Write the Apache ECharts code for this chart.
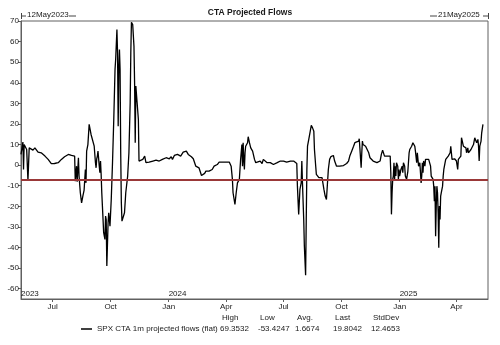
<!DOCTYPE html>
<html><head><meta charset="utf-8">
<script src="https://cdn.jsdelivr.net/npm/echarts@6/dist/echarts.min.js"></script>
<style>html,body{margin:0;padding:0;background:#fff}#c{width:500px;height:345px}</style>
</head><body><div id="c"></div>
<script>
// ---- data ----
const chartTitle = 'CTA Projected Flows';
const seriesName = 'SPX CTA 1m projected flows (flat)';
const startDate = '2023-05-12';
const endDate = '2025-05-21';
const startLabel = '12May2023';
const endLabel = '21May2025';
// observation dates, as days since 12 May 2023
const dayOffsets = [0,3,4,5,7,9,10,11,13,16,19,22,24,27,30,32,35,38,40,43,45,48,51,53,56,59,61,64,67,69,72,75,77,80,82,85,86,88,89,91,92,94,96,98,100,102,103,104,106,108,109,111,114,116,118,119,120,121,122,123,124,125,126,127,128,129,131,133,134,135,136,138,139,141,143,145,147,149,150,152,153,154,155,156,157,158,159,160,162,164,166,169,171,173,174,175,177,179,180,181,182,184,186,187,190,193,195,196,198,201,203,209,214,219,224,230,232,235,238,240,243,
245,248,250,253,256,257,259,262,265,267,270,273,275,277,279,282,285,286,289,291,293,295,298,301,303,306,308,311,314,316,319,322,324,327,330,332,333,335,336,339,341,343,344,346,348,350,351,352,353,354,355,356,359,360,362,364,367,369,
370,372,375,379,382,384,387,390,392,395,398,400,403,406,408,411,414,416,419,421,424,427,429,432,435,437,438,440,442,444,445,446,448,449,451,452,453,454,456,457,459,460,462,464,465,467,468,470,472,473,475,477,478,480,482,484,485,487,489,491,493,
495,497,500,503,505,508,511,513,516,519,521,524,527,529,532,535,536,537,539,540,541,542,544,546,548,549,551,553,556,558,561,564,566,569,571,573,575,576,578,579,581,583,585,586,587,588,589,590,591,592,593,594,595,597,598,599,600,602,604,605,606,608,609,611,613,
615,616,619,621,622,624,625,626,627,628,629,630,632,633,634,635,636,637,638,640,641,642,644,646,648,649,650,651,653,654,655,656,657,658,659,660,661,662,663,664,665,666,668,669,670,672,673,675,677,678,680,681,682,683,685,687,690,691,692,693,695,697,698,700,701,703,705,706,708,709,711,713,714,716,717,719,720,722,724,725,726,727,729,730,732];
const flowValues = [5.2,11.2,-2.1,10.0,9.2,7.6,6.8,-7.4,8.4,7.9,7.3,8.4,7.6,6.3,6.8,6.0,5.5,4.4,3.6,2.8,2.0,0.7,0.4,0.8,0.8,1.2,2.0,2.8,3.1,4.1,4.7,5.2,4.7,4.7,4.4,4.4,-7.8,-0.5,-8.1,3.6,-5.3,-13.4,-18.3,-15.0,-12.1,-2.1,-8.6,6.8,10.0,19.8,18.9,14.9,14.9,9.2,1.2,-1.3,3.0,4.4,6.8,6.0,-0.5,-3.7,2.0,-4.5,-13.4,-19.9,-32.8,-36.1,-24.7,-26.4,-49.0,-28.0,-23.1,-29.6,-16.7,1.2,22.2,46.5,51.3,65.9,54.5,18.9,46.5,56.2,46.5,6.0,-18.3,-27.2,-26.4,-23.1,-13.4,-5.3,6.0,30.3,54.5,69.35,68.3,57.8,40.0,10.9,38.4,30.3,22.2,2.0,2.0,2.8,2.0,4.4,1.2,0.4,1.5,2.0,2.4,2.0,2.8,3.6,4.4,3.1,4.1,2.8,4.7,
4.4,5.2,6.0,4.4,5.2,6.3,6.8,6.8,5.2,4.4,4.1,3.1,2.8,-0.5,-0.5,-1.3,-2.1,-5.0,-5.0,-4.0,-2.9,-3.4,-2.9,-3.4,-2.1,-0.5,-0.5,0.3,1.5,2.0,1.5,2.0,1.5,1.2,1.5,1.2,-0.5,-6.9,-13.4,-19.1,-13.4,-8.6,-7.7,-6.9,2.8,10.0,-0.5,10.9,2.8,-2.1,6.0,9.2,10.9,13.8,10.9,8.4,6.8,6.0,
2.8,1.2,1.2,2.0,0.8,2.8,2.0,1.2,2.0,1.2,0.8,0.3,0.8,1.2,1.5,2.0,2.4,2.0,2.0,1.5,2.0,2.0,1.5,2.0,1.2,0.8,-10.2,-23.9,-11.8,-8.6,2.0,-8.6,-26.4,-39.3,-53.42,-26.4,-2.1,9.2,12.5,13.3,12.5,19.3,18.1,16.5,7.6,-0.5,-4.5,-5.3,-6.1,-5.3,-6.6,-6.1,-6.9,-11.8,-15.0,-16.7,-11.8,-2.1,2.8,4.1,4.4,
4.7,2.0,-0.5,-1.3,-0.5,-0.5,-0.2,-0.5,0.8,2.0,4.4,6.8,9.2,10.9,10.0,11.7,12.8,12.5,-1.3,6.0,11.7,10.0,9.2,9.2,9.2,8.4,6.0,3.6,2.8,2.0,2.0,1.2,0.8,2.0,5.2,7.3,6.8,4.4,4.7,5.2,4.4,5.2,4.4,-3.7,-23.9,-13.4,-6.9,-5.3,1.2,-6.9,-0.5,-5.3,1.2,-0.5,-6.9,-2.1,-5.3,-2.1,-0.5,-3.7,1.2,-0.5,-5.3,-6.9,-3.0,
6.0,7.6,9.2,10.9,11.7,9.2,6.8,6.0,1.2,6.0,2.8,-0.5,1.2,-3.7,-8.6,-5.3,1.2,-3.7,2.0,-0.5,2.8,2.0,2.8,2.8,2.0,-0.5,-5.3,-6.1,-6.9,-10.2,-17.5,-10.2,-34.5,-19.9,-10.2,-13.4,-23.1,-40.1,-19.9,-26.4,-15.0,-13.4,-10.2,-5.3,-2.1,1.2,2.8,3.6,4.4,4.1,6.0,9.2,6.0,2.8,2.8,3.1,2.0,2.0,-2.1,2.8,3.6,4.4,13.3,12.5,9.2,9.6,8.4,6.0,8.4,6.0,6.0,7.6,6.8,7.6,10.0,13.3,12.5,10.9,12.5,9.2,2.0,9.2,11.7,15.7,19.8042];
const thresholdValue = -7;
const yTickValues = [-60,-50,-40,-30,-20,-10,0,10,20,30,40,50,60,70];
const monthTickDates = ['2023-07-01','2023-10-01','2024-01-01','2024-04-01','2024-07-01','2024-10-01','2025-01-01','2025-04-01'];
const monthTickLabels = ['Jul','Oct','Jan','Apr','Jul','Oct','Jan','Apr'];
const yearTickDates = ['2023-05-12','2024-01-01','2025-01-01'];
const yearTickLabels = ['2023','2024','2025'];
const statNames = ['High','Low','Avg.','Last','StdDev'];
const statValues = ['69.3532','-53.4247','1.6674','19.8042','12.4653'];

// ---- build ----
const DAY = 86400000;
const t0 = Date.parse(startDate);
const t1 = Date.parse(endDate);
const seriesData = dayOffsets.map((d, i) => [t0 + d * DAY, flowValues[i]]);
const monthTicks = monthTickDates.map(s => Date.parse(s));
const yearTicks = yearTickDates.map(s => Date.parse(s));
const FONT = '"Liberation Sans", Arial, sans-serif';
const TXT = '#1a1a1a';
const AX = '#606060';

const statX = [222, 260, 297, 335, 373];
const graphics = [];
statNames.forEach((n, i) => {
  graphics.push({type:'text', left: statX[i], top: 314, style:{text:n, font:'8px ' + FONT, fill:TXT}});
  graphics.push({type:'text', left: statX[i] - 2, top: 325, style:{text:statValues[i], font:'8px ' + FONT, fill:TXT}});
});
// corner date markers
graphics.push({type:'line', shape:{x1:21.5,y1:13,x2:21.5,y2:19}, style:{stroke:'#444',lineWidth:1}});
graphics.push({type:'line', shape:{x1:21.5,y1:16,x2:26,y2:16}, style:{stroke:'#444',lineWidth:1}});
graphics.push({type:'text', left:27, top:11, style:{text:startLabel, font:'8px ' + FONT, fill:TXT}});
graphics.push({type:'line', shape:{x1:69,y1:16,x2:76,y2:16}, style:{stroke:'#444',lineWidth:1}});
graphics.push({type:'line', shape:{x1:430,y1:16,x2:437,y2:16}, style:{stroke:'#444',lineWidth:1}});
graphics.push({type:'text', left:438, top:11, style:{text:endLabel, font:'8px ' + FONT, fill:TXT}});
graphics.push({type:'line', shape:{x1:483,y1:16,x2:488,y2:16}, style:{stroke:'#444',lineWidth:1}});
graphics.push({type:'line', shape:{x1:488.5,y1:13,x2:488.5,y2:19}, style:{stroke:'#444',lineWidth:1}});

const chart = echarts.init(document.getElementById('c'), null, {renderer:'canvas'});
chart.setOption({
  animation: false,
  backgroundColor: '#fff',
  textStyle: {fontFamily: FONT},
  title: {text: chartTitle, left: 'center', top: 3, textStyle: {fontSize: 8.5, fontWeight: 'bold', color: TXT, fontFamily: FONT}},
  legend: {
    data: [seriesName], left: 81, top: 325, padding: 0, icon: 'rect', itemWidth: 11, itemHeight: 1.5,
    textStyle: {fontSize: 8, color: TXT, fontFamily: FONT}
  },
  grid: {left: 21, right: 12, top: 21, bottom: 46, show: true, borderColor: AX, borderWidth: 1, backgroundColor: '#fff'},
  xAxis: [{
    type: 'value', min: t0, max: t1,
    axisLine: {show: true, onZero: false, lineStyle: {color: AX}},
    axisTick: {show: true, length: 3, lineStyle: {color: AX}, customValues: monthTicks},
    axisLabel: {customValues: monthTicks, margin: 4, fontSize: 8, color: TXT, fontFamily: FONT,
      formatter: v => { const i = monthTicks.indexOf(v); return i >= 0 ? monthTickLabels[i] : ''; }},
    splitLine: {show: false}
  }, {
    type: 'value', min: t0, max: t1, position: 'bottom',
    axisLine: {show: false, onZero: false}, axisTick: {show: false}, splitLine: {show: false},
    axisLabel: {inside: true, customValues: yearTicks, margin: 1, align: 'left', fontSize: 8, color: TXT, fontFamily: FONT,
      formatter: v => { const i = yearTicks.indexOf(v); return i >= 0 ? yearTickLabels[i] : ''; }}
  }],
  yAxis: {
    type: 'value', min: -65, max: 70,
    axisLine: {show: true, onZero: false, lineStyle: {color: AX}},
    axisTick: {show: true, length: 3, lineStyle: {color: AX}, customValues: yTickValues},
    axisLabel: {customValues: yTickValues, margin: 2, fontSize: 8, color: TXT, fontFamily: FONT},
    splitLine: {show: false}
  },
  series: [{
    name: seriesName, type: 'line', xAxisIndex: 0, data: seriesData, showSymbol: false, symbol: 'none',
    lineStyle: {color: '#000', width: 1.3}, itemStyle: {color: '#000'},
    markLine: {silent: true, symbol: ['none','none'], label: {show: false},
      lineStyle: {color: '#9a3838', width: 2, type: 'solid'}, data: [{yAxis: thresholdValue}]}
  }],
  graphic: graphics
});
</script></body></html>
